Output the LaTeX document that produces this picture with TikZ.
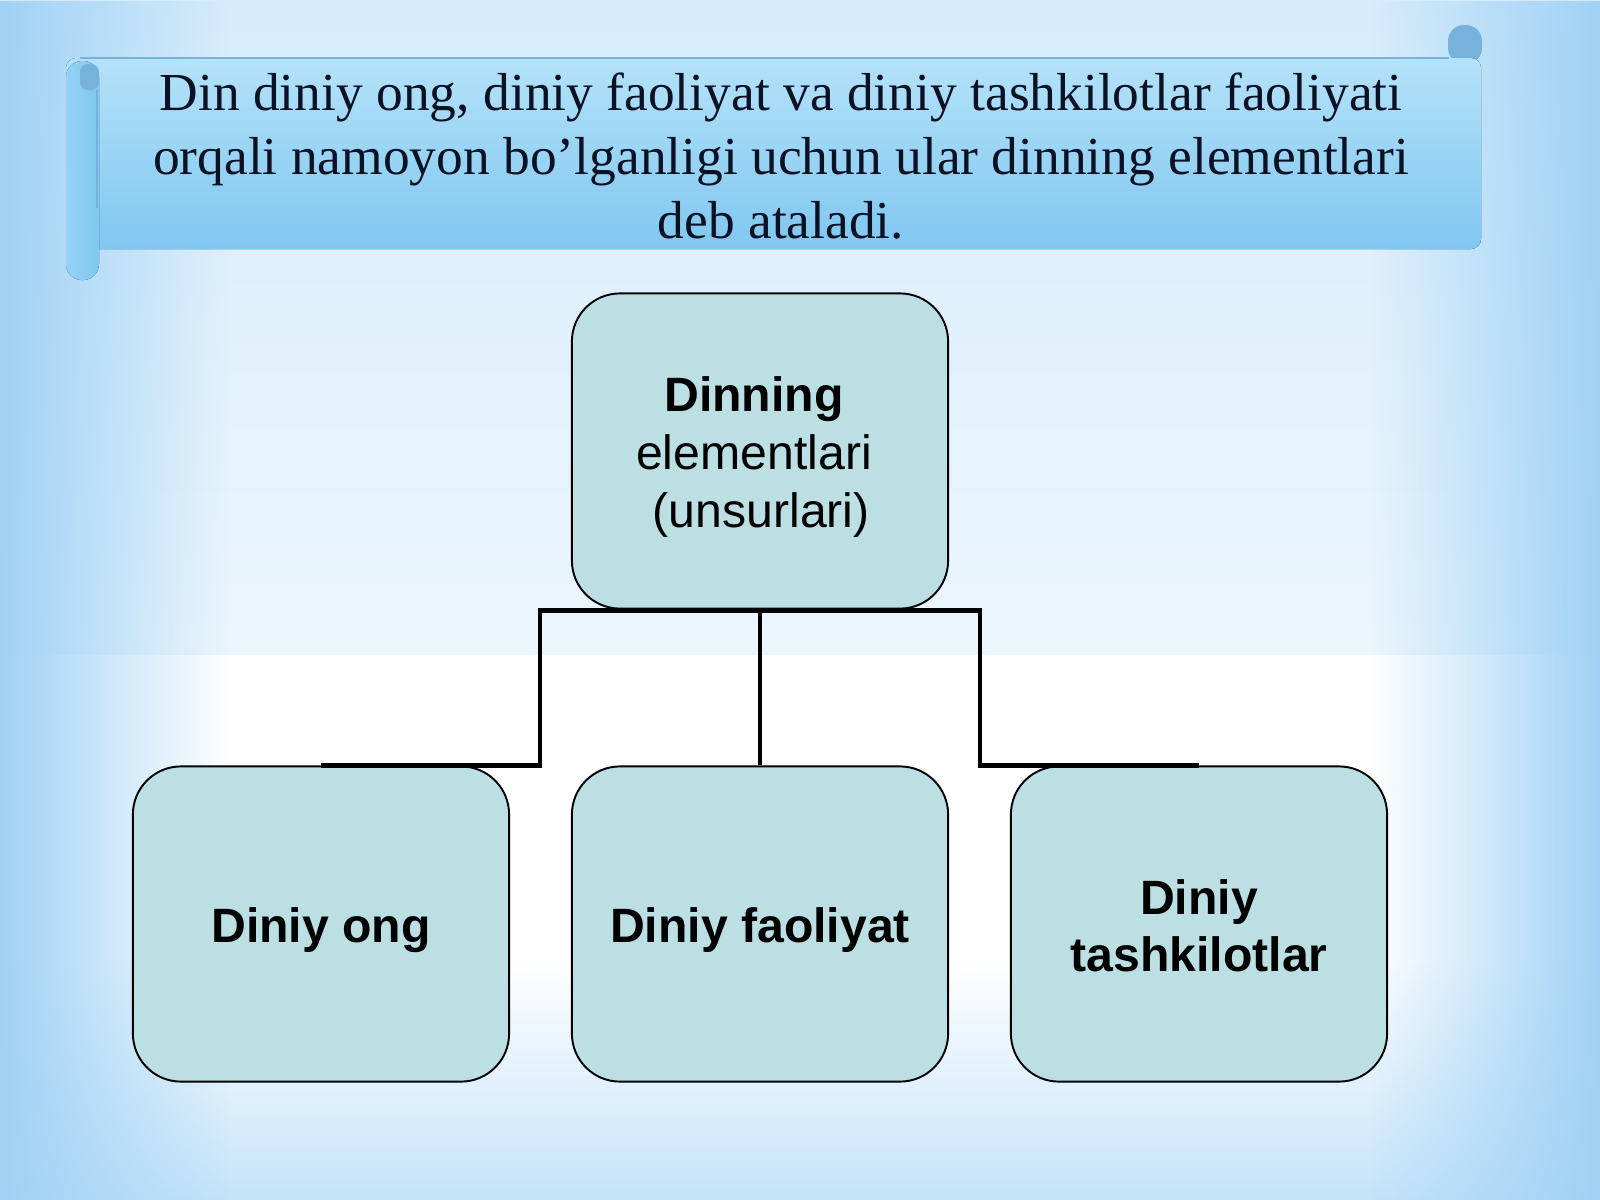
\documentclass[tikz,border=0pt]{standalone}
\usepackage{fontspec}
\setmainfont{Liberation Serif}
\setsansfont{Liberation Sans}
\usetikzlibrary{fadings}
\definecolor{bgtop}{RGB}{214,236,251}
\definecolor{bgmid}{RGB}{236,246,253}
\definecolor{bgbot}{RGB}{196,227,249}
\definecolor{bgedge}{RGB}{160,210,245}
\definecolor{scrolltop}{RGB}{180,226,249}
\definecolor{scrollbot}{RGB}{128,199,240}
\definecolor{scrollroll}{RGB}{150,210,245}
\definecolor{scrollknob}{RGB}{118,178,220}
\definecolor{boxfill}{RGB}{187,223,226}
\definecolor{textnavy}{RGB}{12,18,36}
\tikzset{
	elembox/.style={draw=black,line width=0.55pt,fill=boxfill,rounded corners=0.48cm,
		minimum width=3.76cm,minimum height=3.15cm,inner sep=0pt,align=center,
		font=\sffamily\fontsize{13.7}{16.4}\selectfont},
	boldbox/.style={elembox,font=\sffamily\bfseries\fontsize{13.7}{16.4}\selectfont},
	link/.style={line width=1.2pt,draw=black}
}
\begin{document}
\begin{tikzpicture}[x=0.01cm,y=-0.01cm]
		\useasboundingbox (0,0) rectangle (1600,1200);
		% background
		\fill[top color=bgtop,bottom color=bgmid] (0,0) rectangle (1600,656);
		\fill[white] (0,655) rectangle (1600,960);
		\fill[top color=white,bottom color=bgbot] (0,959) rectangle (1600,1200);
		\fill[bgedge,path fading=east] (0,0) rectangle (230,1200);
		\fill[bgedge,path fading=west] (1370,0) rectangle (1600,1200);
		% scroll
		\fill[scrollknob,rounded corners=0.16cm] (1448,25) rectangle (1482,64);
		\fill[top color=scrolltop,bottom color=scrollbot,rounded corners=0.1cm] (66,58) rectangle (1481,249);
		\draw[scrollknob,line width=0.6pt] (80,58) -- (1449,58);
		\fill[left color=scrollroll,right color=scrollbot,rounded corners=0.16cm] (66,61) rectangle (99,280);
		\fill[scrollknob,rounded corners=0.08cm] (80,64) rectangle (99,90);
		\draw[scrollknob,line width=0.5pt] (97,90) -- (97,208);
		\node[font=\fontsize{15.2}{18.3}\selectfont,align=center,text=textnavy] (title) at (781,156)
			{Din diniy ong, diniy faoliyat va diniy tashkilotlar faoliyati\\
			 orqali namoyon bo’lganligi uchun ular dinning elementlari\\
			 deb ataladi.};
		% boxes
		\coordinate (E) at (760,451);
		\coordinate (O) at (321,924);
		\coordinate (F) at (760,924);
		\coordinate (T) at (1199,924);
		\node[elembox] (elem) at (E) {\rule{0pt}{13.4pt}\textbf{Dinning}\rule{0.25em}{0pt}\\%
			elementlari\rule{0.25em}{0pt}\\\rule{0.3em}{0pt}(unsurlari)\rule{0.25em}{0pt}};
		\node[boldbox] (ong) at (O) {\rule{0pt}{13.4pt}Diniy ong};
		\node[boldbox] (faol) at (F) {\rule{0pt}{13.4pt}Diniy faoliyat};
		\node[boldbox] (tash) at (T) {\rule{0pt}{11pt}Diniy\\tashkilotlar};
		% connectors
		\draw[link] (ong.north) -| ([xshift=-2.2cm,yshift=-0.01cm]elem.south) -- ([yshift=-0.01cm]elem.south);
		\draw[link] (tash.north) -| ([xshift=2.2cm,yshift=-0.01cm]elem.south) -- ([yshift=-0.01cm]elem.south);
		\draw[link] ([yshift=-0.01cm]elem.south) -- (faol.north);
	\end{tikzpicture}
\end{document}
